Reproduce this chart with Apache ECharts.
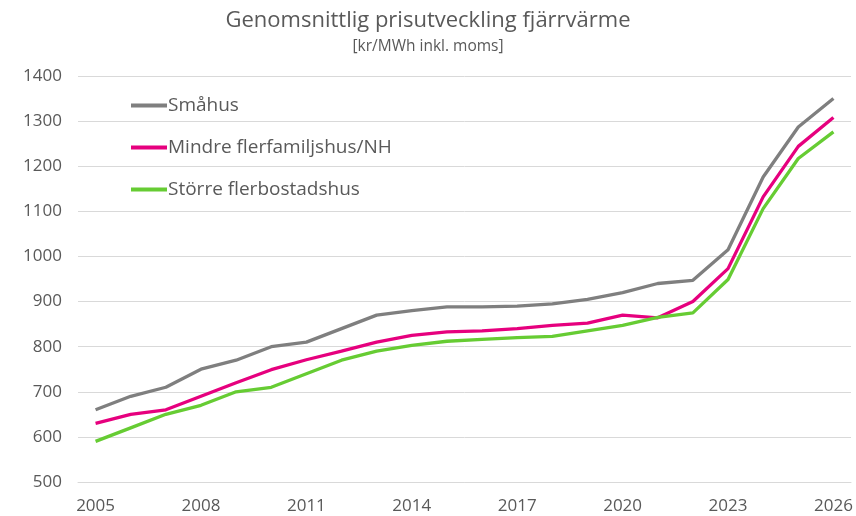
<!DOCTYPE html>
<html><head><meta charset="utf-8">
<script src="https://cdn.jsdelivr.net/npm/echarts@6/dist/echarts.min.js"></script>
<style>html,body{margin:0;padding:0;background:#fff}#c{width:856px;height:516px}</style>
</head><body><div id="c"></div>
<script>
const years = ['2005','2006','2007','2008','2009','2010','2011','2012','2013','2014','2015','2016','2017','2018','2019','2020','2021','2022','2023','2024','2025','2026'];
const smahus = [660,690,710,750,770,800,810,840,870,880,888,888,890,895,905,920,940,947,1015,1176,1287,1350];
const mindre = [630,650,660,690,720,749,771,790,810,825,833,835,840,847,852,870,864,900,973,1132,1244,1308];
const storre = [590,620,650,670,700,710,740,770,790,803,812,816,820,823,835,847,865,875,949,1106,1217,1276];
const names = ['Småhus','Mindre flerfamiljshus/NH','Större flerbostadshus'];
const colors = ['#7f7f7f','#e6007e','#66cc33'];
const font = 'Open Sans';
const chart = echarts.init(document.getElementById('c'));
const mk = (n,d,c)=>({name:n,type:'line',data:d,symbol:'none',lineStyle:{width:3.3,color:c},itemStyle:{color:c}});
chart.setOption({
  animation:false,
  title:{text:'Genomsnittlig prisutveckling fjärrvärme',subtext:'[kr/MWh inkl. moms]',left:'center',top:5,itemGap:7,
    textStyle:{fontFamily:font,fontSize:22,fontWeight:'normal',color:'#595959'},
    subtextStyle:{fontFamily:font,fontSize:15.5,color:'#595959'}},
  legend:{orient:'vertical',left:126,top:91,itemWidth:36,itemHeight:4,itemGap:23,icon:'rect',
    textStyle:{fontFamily:font,fontSize:19,color:'#595959',padding:[0,0,0,-4]},data:names},
  grid:{left:78,right:5,top:76,bottom:34,containLabel:false},
  xAxis:{type:'category',data:years,boundaryGap:true,
    axisLine:{lineStyle:{color:'#d9d9d9'}},axisTick:{show:false},
    axisLabel:{interval:2,fontFamily:font,fontSize:17,color:'#595959',margin:16}},
  yAxis:{type:'value',min:500,max:1400,interval:100,
    axisLine:{show:false},axisTick:{show:false},
    splitLine:{lineStyle:{color:'#d9d9d9',width:1}},
    axisLabel:{fontFamily:font,fontSize:17,color:'#595959',margin:16,formatter:v=>String(v)}},
  series:[mk(names[0],smahus,colors[0]),mk(names[1],mindre,colors[1]),mk(names[2],storre,colors[2])]
});
</script></body></html>
